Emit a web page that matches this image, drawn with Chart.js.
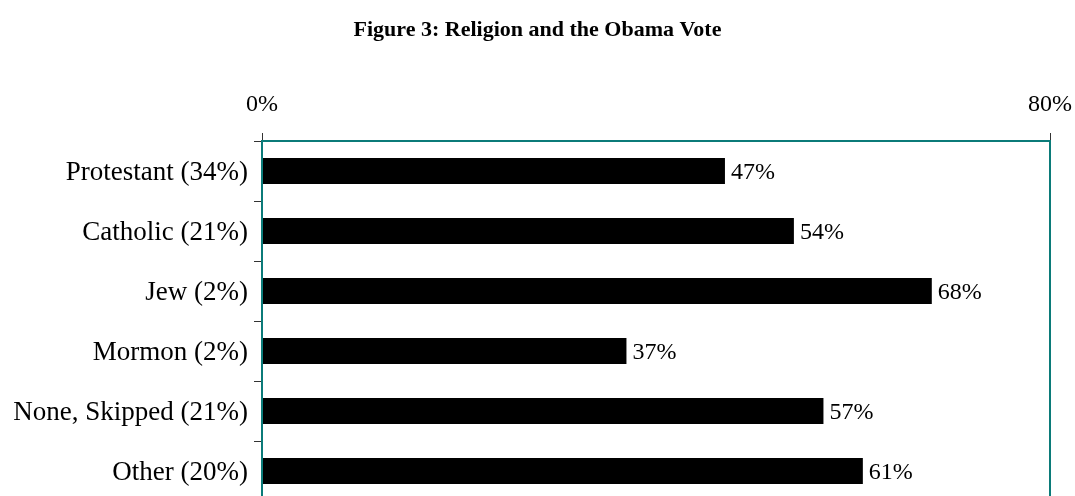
<!DOCTYPE html>
<html>
<head>
<meta charset="utf-8">
<title>Religion and the Obama Vote</title>
<script src="https://cdn.jsdelivr.net/npm/chart.js@4.4.1/dist/chart.umd.min.js"></script>
<style>
  html, body { margin: 0; padding: 0; background: #fff; overflow: hidden; }
  canvas { display: block; }
</style>
</head>
<body>
<canvas id="religionChart" width="1075" height="510"></canvas>
<script>
const categories = ['Protestant (34%)', 'Catholic (21%)', 'Jew (2%)', 'Mormon (2%)', 'None, Skipped (21%)', 'Other (20%)'];
const obamaVote = [47, 54, 68, 37, 57, 61];
const axisTicks = [0, 80];

const serif = "'Liberation Serif', 'Times New Roman', serif";
const frameColor = '#0b7b79';

// frame around the plot area (top, right, left)
const plotFrame = {
    id: 'plotFrame',
    afterDatasetsDraw(chart) {
        const { ctx, chartArea: a } = chart;
        ctx.save();
        ctx.strokeStyle = frameColor;
        ctx.lineWidth = 2;
        ctx.strokeRect(a.left, a.top, a.right - a.left, a.bottom - a.top);
        ctx.restore();
    }
};

// value text just past the end of each bar
const barValues = {
    id: 'barValues',
    afterDatasetsDraw(chart) {
        const { ctx } = chart;
        const meta = chart.getDatasetMeta(0);
        ctx.save();
        ctx.font = '24px ' + serif;
        ctx.fillStyle = '#000';
        ctx.textAlign = 'left';
        ctx.textBaseline = 'middle';
        meta.data.forEach((bar, i) => {
            ctx.fillText(obamaVote[i] + '%', bar.x + 6, bar.y + 2);
        });
        ctx.restore();
    }
};

const ctx = document.getElementById('religionChart').getContext('2d');
new Chart(ctx, {
    type: 'bar',
    data: {
        labels: categories,
        datasets: [{
            label: 'Obama vote',
            data: obamaVote,
            backgroundColor: '#000',
            borderWidth: 0,
            barPercentage: 0.435,
            categoryPercentage: 1
        }]
    },
    options: {
        indexAxis: 'y',
        responsive: false,
        animation: false,
        layout: { padding: { left: 0, right: 0, top: 0, bottom: 9 } },
        scales: {
            x: {
                position: 'top',
                min: axisTicks[0],
                max: axisTicks[axisTicks.length - 1],
                afterBuildTicks: scale => {
                    scale.ticks = axisTicks.map(v => ({ value: v }));
                },
                afterFit: scale => {
                    scale.height = 141 - 43.4;
                    scale.paddingLeft = 0;
                    scale.paddingRight = 25;
                },
                ticks: {
                    color: '#000',
                    font: { family: serif, size: 24 },
                    padding: 14,
                    callback: v => v + '%'
                },
                grid: {
                    drawOnChartArea: false,
                    tickLength: 8,
                    color: '#333'
                },
                border: { color: frameColor, width: 2 }
            },
            y: {
                afterFit: scale => {
                    scale.width = 262;
                    scale.paddingTop = 0;
                    scale.paddingBottom = 0;
                },
                ticks: {
                    color: '#000',
                    font: { family: serif, size: 27 },
                    padding: 6,
                    labelOffset: 2
                },
                grid: {
                    offset: true,
                    drawOnChartArea: false,
                    tickLength: 8,
                    color: '#333'
                },
                border: { color: frameColor, width: 2 }
            }
        },
        plugins: {
            legend: { display: false },
            tooltip: { enabled: false },
            title: {
                display: true,
                text: 'Figure 3: Religion and the Obama Vote',
                color: '#000',
                font: { family: serif, size: 22, weight: 'bold' },
                padding: { top: 17, bottom: 0 }
            }
        }
    },
    plugins: [plotFrame, barValues]
});
</script>
</body>
</html>
